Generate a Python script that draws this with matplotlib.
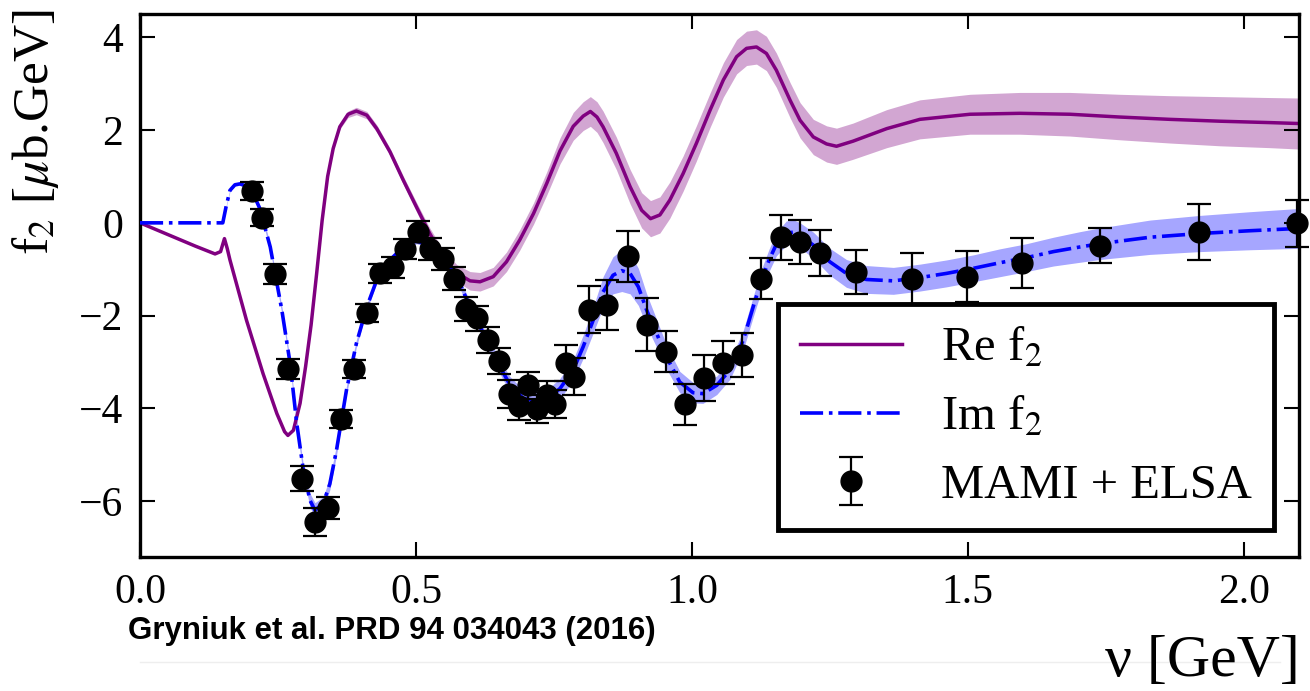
import numpy as np
import matplotlib
matplotlib.use("Agg")
import matplotlib.pyplot as plt
from matplotlib.lines import Line2D

# ---------------- data ----------------
data_x = [0.203, 0.221, 0.245, 0.269, 0.293, 0.317, 0.341, 0.365, 0.388, 0.412,
          0.434, 0.458, 0.481, 0.504, 0.526, 0.549, 0.569, 0.591, 0.610, 0.630,
          0.650, 0.668, 0.687, 0.703, 0.720, 0.737, 0.752, 0.771, 0.787, 0.813,
          0.847, 0.884, 0.918, 0.953, 0.988, 1.022, 1.057, 1.091, 1.126, 1.161,
          1.196, 1.232, 1.298, 1.398, 1.499, 1.599, 1.739, 1.919, 2.097]
data_y = [0.68, 0.11, -1.10, -3.15, -5.51, -6.44, -6.14, -4.22, -3.15, -1.94,
          -1.09, -0.96, -0.56, -0.19, -0.56, -0.78, -1.20, -1.85, -2.06, -2.53,
          -2.97, -3.69, -3.95, -3.50, -4.02, -3.71, -3.91, -3.02, -3.32, -1.87,
          -1.77, -0.72, -2.20, -2.78, -3.91, -3.34, -3.01, -2.85, -1.20, -0.31,
          -0.41, -0.65, -1.06, -1.20, -1.16, -0.87, -0.49, -0.19, -0.01]
data_err = [0.19, 0.18, 0.22, 0.22, 0.26, 0.30, 0.24, 0.19, 0.19, 0.20,
            0.21, 0.22, 0.22, 0.23, 0.23, 0.24, 0.25, 0.26, 0.27, 0.28,
            0.28, 0.30, 0.30, 0.29, 0.30, 0.30, 0.30, 0.38, 0.40, 0.50,
            0.54, 0.55, 0.57, 0.44, 0.44, 0.50, 0.47, 0.47, 0.45, 0.48,
            0.47, 0.50, 0.47, 0.55, 0.55, 0.54, 0.37, 0.60, 0.50]

re_x = [0.000, 0.050, 0.100, 0.136, 0.146, 0.153, 0.158, 0.163, 0.193, 0.223,
        0.248, 0.262, 0.268, 0.278, 0.290, 0.300, 0.310, 0.320, 0.330, 0.340,
        0.350, 0.362, 0.377, 0.392, 0.411, 0.429, 0.453, 0.477, 0.501, 0.525,
        0.549, 0.574, 0.598, 0.616, 0.640, 0.664, 0.688, 0.713, 0.737, 0.761,
        0.785, 0.803, 0.816, 0.828, 0.839, 0.863, 0.888, 0.909, 0.925, 0.942,
        0.960, 0.984, 1.008, 1.033, 1.057, 1.081, 1.099, 1.117, 1.135, 1.153,
        1.178, 1.196, 1.220, 1.244, 1.262, 1.292, 1.353, 1.413, 1.504, 1.594,
        1.685, 1.775, 1.866, 1.957, 2.047, 2.100]
re_y = [0.00, -0.25, -0.50, -0.67, -0.62, -0.34, -0.55, -0.80, -2.10, -3.25,
        -4.11, -4.50, -4.58, -4.47, -3.89, -3.10, -2.20, -1.10, 0.05, 1.00,
        1.60, 2.07, 2.34, 2.41, 2.32, 2.03, 1.53, 0.92, 0.34, -0.23,
        -0.73, -1.08, -1.25, -1.27, -1.16, -0.84, -0.37, 0.20, 0.85, 1.55,
        2.08, 2.30, 2.40, 2.28, 2.07, 1.50, 0.78, 0.27, 0.09, 0.17,
        0.49, 1.06, 1.71, 2.43, 3.08, 3.58, 3.76, 3.79, 3.65, 3.29,
        2.64, 2.21, 1.85, 1.70, 1.65, 1.76, 2.03, 2.23, 2.34, 2.36,
        2.34, 2.28, 2.23, 2.19, 2.16, 2.14]
re_band = [0, 0, 0, 0, 0, 0, 0, 0, 0, 0,
           0, 0, 0, 0, 0, 0, 0, 0, 0.01, 0.02,
           0.03, 0.05, 0.07, 0.08, 0.08, 0.08, 0.08, 0.09, 0.10, 0.12,
           0.15, 0.18, 0.20, 0.20, 0.20, 0.21, 0.22, 0.23, 0.25, 0.28,
           0.30, 0.31, 0.32, 0.33, 0.34, 0.35, 0.37, 0.38, 0.39, 0.39,
           0.39, 0.38, 0.38, 0.37, 0.37, 0.37, 0.37, 0.37, 0.37, 0.37,
           0.38, 0.38, 0.38, 0.39, 0.39, 0.39, 0.41, 0.42, 0.43, 0.45,
           0.47, 0.49, 0.51, 0.53, 0.54, 0.55]

im_x = [0.000, 0.100, 0.150, 0.156, 0.163, 0.172, 0.181, 0.196, 0.207, 0.217,
        0.236, 0.257, 0.272, 0.284, 0.296, 0.308, 0.317, 0.332, 0.344, 0.356,
        0.374, 0.392, 0.411, 0.429, 0.453, 0.477, 0.501, 0.525, 0.549, 0.574,
        0.592, 0.610, 0.630, 0.652, 0.670, 0.694, 0.719, 0.743, 0.761, 0.785,
        0.803, 0.821, 0.839, 0.857, 0.873, 0.888, 0.903, 0.918, 0.936, 0.954,
        0.978, 1.002, 1.020, 1.045, 1.069, 1.093, 1.111, 1.126, 1.140, 1.153,
        1.171, 1.185, 1.196, 1.220, 1.250, 1.280, 1.316, 1.365, 1.413, 1.461,
        1.510, 1.558, 1.606, 1.655, 1.703, 1.739, 1.830, 1.920, 2.011, 2.100]
im_y = [0.00, 0.00, 0.00, 0.35, 0.70, 0.82, 0.84, 0.78, 0.58, 0.31,
        -0.52, -1.88, -3.03, -4.32, -5.33, -5.98, -6.19, -6.05, -5.62, -4.90,
        -3.61, -2.60, -1.81, -1.23, -0.80, -0.52, -0.39, -0.48, -0.73, -1.16,
        -1.65, -2.08, -2.58, -3.10, -3.48, -3.78, -3.84, -3.75, -3.57, -3.17,
        -2.67, -2.10, -1.49, -1.13, -1.03, -1.09, -1.38, -1.88, -2.38, -2.89,
        -3.43, -3.66, -3.68, -3.50, -3.17, -2.53, -1.81, -1.23, -0.80, -0.46,
        -0.22, -0.20, -0.27, -0.48, -0.84, -1.09, -1.22, -1.25, -1.18, -1.09,
        -0.98, -0.86, -0.75, -0.62, -0.52, -0.45, -0.31, -0.23, -0.17, -0.12]
im_band = [0, 0, 0, 0.02, 0.03, 0.03, 0.03, 0.04, 0.05, 0.06,
           0.07, 0.08, 0.09, 0.10, 0.12, 0.15, 0.16, 0.15, 0.13, 0.11,
           0.09, 0.08, 0.07, 0.07, 0.06, 0.06, 0.06, 0.06, 0.07, 0.09,
           0.11, 0.12, 0.14, 0.15, 0.17, 0.19, 0.20, 0.21, 0.22, 0.23,
           0.25, 0.28, 0.33, 0.40, 0.45, 0.44, 0.40, 0.35, 0.30, 0.26,
           0.23, 0.22, 0.21, 0.20, 0.20, 0.21, 0.22, 0.23, 0.24, 0.25,
           0.26, 0.26, 0.27, 0.28, 0.29, 0.30, 0.30, 0.29, 0.29, 0.29,
           0.29, 0.30, 0.30, 0.31, 0.33, 0.34, 0.37, 0.39, 0.41, 0.43]

x_ticks = [0.0, 0.5, 1.0, 1.5, 2.0]
x_ticklabels = ["0.0", "0.5", "1.0", "1.5", "2.0"]
y_ticks = [4, 2, 0, -2, -4, -6]
y_ticklabels = ["4", "2", "0", "\u22122", "\u22124", "\u22126"]

# ---------------- style ----------------
plt.rcParams['font.family'] = ['Liberation Serif', 'DejaVu Serif']
plt.rcParams['mathtext.fontset'] = 'stix'

fig = plt.figure(figsize=(13.10, 6.91), dpi=100)
ax = fig.add_axes([140/1310, 1-557/691, 1159/1310, (557-14)/691])

purple = '#800080'
blue = '#0000ff'

rx = np.array(re_x); ry = np.array(re_y); rb = np.array(re_band)
ix = np.array(im_x); iy = np.array(im_y); ib = np.array(im_band)

ax.fill_between(rx, ry - rb, ry + rb, color=purple, alpha=0.35, lw=0, zorder=1)
ax.fill_between(ix, iy - ib, iy + ib, color=blue, alpha=0.35, lw=0, zorder=1)
ax.plot(rx, ry, color=purple, lw=2.5, solid_joinstyle='round', zorder=2, label='Re f$_2$')
ax.plot(ix, iy, color=blue, lw=2.6, ls='-.', zorder=3, label='Im f$_2$')
ax.errorbar(data_x, data_y, yerr=data_err, fmt='o', color='black', ms=15,
            capsize=8.5, elinewidth=1.6, capthick=1.6, zorder=5, clip_on=False,
            label='MAMI + ELSA')

ax.set_xlim(0, 2.1)
ax.set_ylim(-7.2, 4.5)
ax.set_xticks(x_ticks)
ax.set_xticklabels(x_ticklabels)
ax.set_yticks(y_ticks)
ax.set_yticklabels(y_ticklabels)
ax.tick_params(direction='in', length=11, width=1.5, labelsize=30,
               top=True, right=True, pad=12)
for s in ax.spines.values():
    s.set_linewidth(2.4)

ax.set_ylabel('f$_2$ [$\\mu$b.GeV]', fontsize=37, labelpad=8, loc='top')
ax.yaxis.set_label_coords(-0.068, 1.01)

leg = ax.legend(loc='lower right', bbox_to_anchor=(0.9785, 0.05),
                borderaxespad=0, fontsize=35, handlelength=2.1,
                handletextpad=0.8, labelspacing=0.5, borderpad=0.45,
                fancybox=False, framealpha=1, edgecolor='black')
leg.get_frame().set_linewidth(3.5)

fig.text(1300/1310, 1-676/691, '\u03bd [GeV]', ha='right', va='baseline',
         fontsize=43)
fig.text(128/1310, 1-631/691, 'Gryniuk et al. PRD 94 034043 (2016)',
         ha='left', va='center', fontsize=22.5, fontweight='bold',
         family=['Liberation Sans', 'DejaVu Sans'])
fig.add_artist(Line2D([140/1310, 1280/1310], [1-662/691, 1-662/691],
                      color='#eeeeee', lw=1))

fig.savefig('out.png', dpi=100)
